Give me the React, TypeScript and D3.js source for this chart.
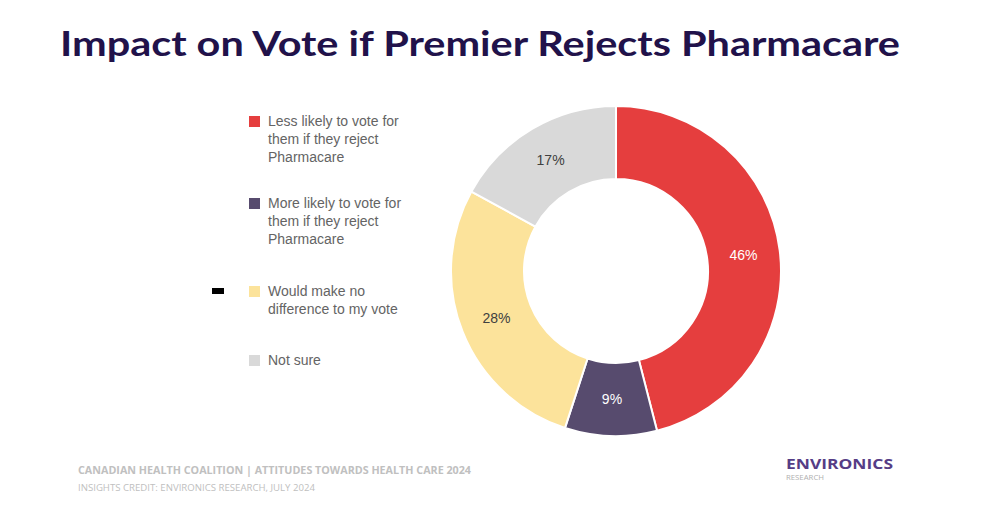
import { useEffect, useRef } from 'react'
import * as d3 from 'd3'

const CATEGORIES = [
  'Less likely to vote for them if they reject Pharmacare',
  'More likely to vote for them if they reject Pharmacare',
  'Would make no difference to my vote',
  'Not sure',
]
const LEGEND_LINES = [
  ['Less likely to vote for', 'them if they reject', 'Pharmacare'],
  ['More likely to vote for', 'them if they reject', 'Pharmacare'],
  ['Would make no', 'difference to my vote'],
  ['Not sure'],
]
const VALUES = [46, 9, 28, 17]
const COLORS = ['#e53e3e', '#574b6e', '#fce39b', '#d9d9d9']
const LABEL_COLORS = ['#ffffff', '#ffffff', '#404040', '#404040']
const LEGEND_Y = [120, 202, 290, 359]

export default function App() {
  const svgRef = useRef<SVGSVGElement | null>(null)

  useEffect(() => {
    if (!svgRef.current) return
    const svg = d3.select(svgRef.current)
    svg.selectAll('*').remove()

    const width = 1000
    const height = 525
    svg.attr('viewBox', `0 0 ${width} ${height}`)

    svg.append('rect').attr('width', width).attr('height', height).attr('fill', '#ffffff')

    // Title
    svg.append('text')
      .attr('x', 60)
      .attr('y', 56)
      .attr('font-family', 'Lato, "Open Sans", sans-serif')
      .attr('font-weight', 700)
      .attr('font-size', 35)
      .attr('fill', '#21124a')
      .attr('textLength', 840)
      .attr('lengthAdjust', 'spacingAndGlyphs')
      .text('Impact on Vote if Premier Rejects Pharmacare')

    // Donut
    const cx = 616
    const cy = 271
    const outerR = 165
    const innerR = 92

    const pie = d3.pie<number>().sort(null).value(d => d)
    const arcs = pie(VALUES)
    const arc = d3.arc<d3.PieArcDatum<number>>().innerRadius(innerR).outerRadius(outerR)

    const g = svg.append('g').attr('transform', `translate(${cx}, ${cy})`)

    g.selectAll('path.slice')
      .data(arcs)
      .join('path')
      .attr('class', 'slice')
      .attr('d', arc)
      .attr('fill', (_, i) => COLORS[i])
      .attr('stroke', '#ffffff')
      .attr('stroke-width', 2)

    g.selectAll('text.lbl')
      .data(arcs)
      .join('text')
      .attr('class', 'lbl')
      .attr('transform', d => `translate(${arc.centroid(d)})`)
      .attr('text-anchor', 'middle')
      .attr('dominant-baseline', 'central')
      .attr('font-family', 'Arial, "Liberation Sans", sans-serif')
      .attr('font-size', 14)
      .attr('fill', (_, i) => LABEL_COLORS[i])
      .text(d => `${d.data}%`)

    // Legend
    const legend = svg.append('g')
    CATEGORIES.forEach((cat, i) => {
      const y0 = LEGEND_Y[i]
      const item = legend.append('g').attr('aria-label', cat)
      item.append('rect')
        .attr('x', 249)
        .attr('y', y0 - 4)
        .attr('width', 11)
        .attr('height', 11)
        .attr('fill', COLORS[i])
      const t = item.append('text')
        .attr('font-family', 'Arial, "Liberation Sans", sans-serif')
        .attr('font-size', 14)
        .attr('fill', '#646464')
      LEGEND_LINES[i].forEach((line, j) => {
        t.append('tspan')
          .attr('x', 268)
          .attr('y', y0 + 6 + j * 18)
          .text(line)
      })
    })

    // stray black marker next to the third legend item
    svg.append('rect')
      .attr('x', 212)
      .attr('y', 288)
      .attr('width', 12)
      .attr('height', 6)
      .attr('fill', '#000000')

    // Footer
    svg.append('text')
      .attr('x', 78)
      .attr('y', 474)
      .attr('font-family', '"Open Sans", sans-serif')
      .attr('font-weight', 700)
      .attr('font-size', 10.5)
      .attr('fill', '#c0c0c0')
      .attr('textLength', 393)
      .attr('lengthAdjust', 'spacingAndGlyphs')
      .text('CANADIAN HEALTH COALITION | ATTITUDES TOWARDS HEALTH CARE 2024')

    svg.append('text')
      .attr('x', 78)
      .attr('y', 491)
      .attr('font-family', '"Open Sans", sans-serif')
      .attr('font-size', 8.5)
      .attr('fill', '#c0c0c0')
      .attr('textLength', 237)
      .attr('lengthAdjust', 'spacingAndGlyphs')
      .text('INSIGHTS CREDIT: ENVIRONICS RESEARCH, JULY 2024')

    svg.append('text')
      .attr('x', 786)
      .attr('y', 469)
      .attr('font-family', '"Open Sans", sans-serif')
      .attr('font-weight', 700)
      .attr('font-size', 14)
      .attr('fill', '#563d86')
      .attr('textLength', 107)
      .attr('lengthAdjust', 'spacingAndGlyphs')
      .text('ENVIRONICS')

    svg.append('text')
      .attr('x', 786)
      .attr('y', 480)
      .attr('font-family', '"Open Sans", sans-serif')
      .attr('font-size', 7.5)
      .attr('fill', '#b0b0b0')
      .attr('textLength', 38)
      .attr('lengthAdjust', 'spacingAndGlyphs')
      .text('RESEARCH')
  }, [])

  return (
    <div style={{ margin: -8, width: 1000, height: 525 }}>
      <svg ref={svgRef} width={1000} height={525} style={{ display: 'block' }} />
    </div>
  )
}
